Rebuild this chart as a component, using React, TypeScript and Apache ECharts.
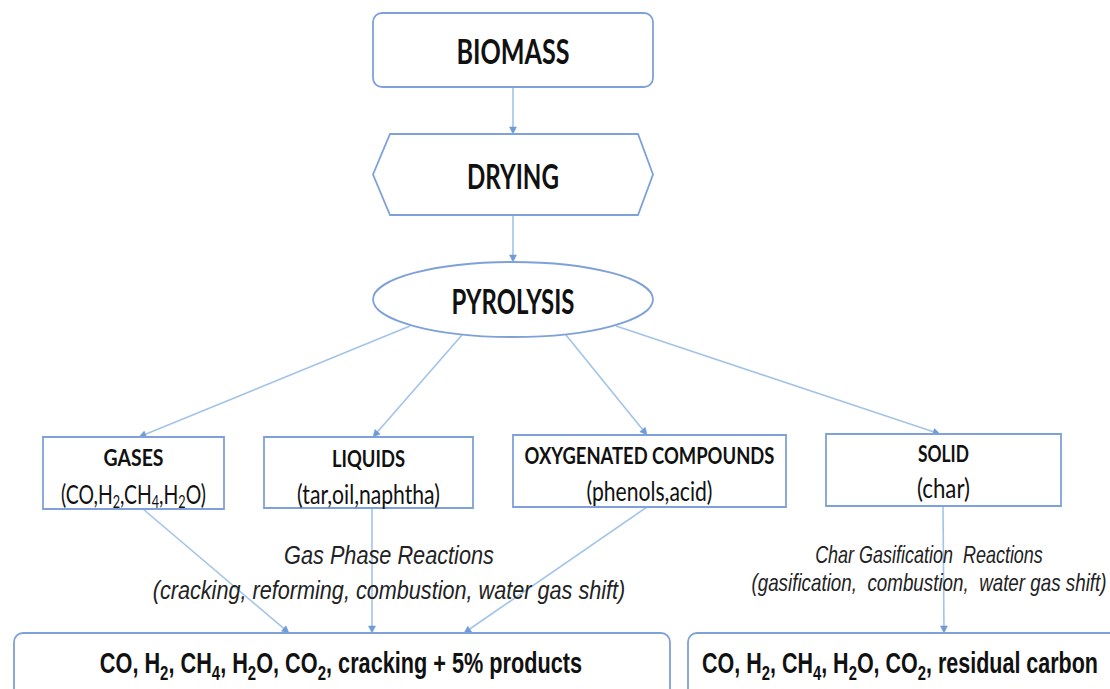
import React, { useEffect, useRef } from "react";
import * as echarts from "echarts";

// ---------- content ----------
const stageLabels = ["BIOMASS", "DRYING", "PYROLYSIS"];
const productTitles = ["GASES", "LIQUIDS", "OXYGENATED COMPOUNDS", "SOLID"];
const productDetails = ["(CO,H_2,CH_4,H_2O)", "(tar,oil,naphtha)", "(phenols,acid)", "(char)"];
const reactionTitles = ["Gas Phase Reactions", "Char Gasification  Reactions"];
const reactionDetails = [
  "(cracking, reforming, combustion, water gas shift)",
  "(gasification,  combustion,  water gas shift)",
];
const outputLabels = [
  "CO, H_2, CH_4, H_2O, CO_2, cracking + 5% products",
  "CO, H_2, CH_4, H_2O, CO_2, residual carbon",
];

// ---------- layout ----------
const BOX_STROKE = "#7fa1d9";
const LINE_COLOR = "#a2c4e8";
const HEAD_COLOR = "#6f9bd6";
const TEXT_COLOR = "#111111";

const biomassBox = { x: 373, y: 13, w: 280, h: 74 };
const dryingPts = [
  [390, 134], [638, 134], [653, 174.5], [638, 215], [390, 215], [373, 174.5],
];
const pyro = { cx: 513, cy: 299.5, rx: 140, ry: 37.5 };
const productBoxes = [
  { x: 43, y: 437, w: 181, h: 72 },
  { x: 264, y: 437, w: 209, h: 71 },
  { x: 513, y: 435, w: 273, h: 72 },
  { x: 826, y: 434, w: 235, h: 72 },
];
const outputBoxes = [
  { x: 14, y: 633, w: 656, h: 70 },
  { x: 688, y: 633, w: 432, h: 70 },
];
const arrows = [
  [513, 87, 513, 134],
  [513, 215, 513, 262],
  [410, 326, 139, 437],
  [462, 335, 373, 437],
  [566, 335, 647, 435],
  [616, 326, 940, 434],
  [143, 509, 289, 633],
  [372, 508, 372, 633],
  [647, 507, 464, 633],
  [943, 506, 944, 633],
];

const stagePos = [
  { cx: 513, cy: 50, w: 113 },
  { cx: 513, cy: 176, w: 92 },
  { cx: 513, cy: 301, w: 123 },
];
const titlePos = [
  { cx: 133.5, cy: 458, w: 60 },
  { cx: 368.5, cy: 458, w: 73 },
  { cx: 649.5, cy: 455, w: 250 },
  { cx: 943.5, cy: 453, w: 51 },
];
const detailPos = [
  { cx: 133.5, cy: 494, w: 145 },
  { cx: 368.5, cy: 494, w: 143 },
  { cx: 649.5, cy: 491, w: 126 },
  { cx: 943.5, cy: 488, w: 53 },
];
const reactionTitlePos = [
  { cx: 389, cy: 555, w: 210, size: 26 },
  { cx: 929, cy: 555, w: 228, size: 23 },
];
const reactionDetailPos = [
  { cx: 389, cy: 590, w: 473, size: 26 },
  { cx: 929, cy: 583, w: 355, size: 23 },
];
const outputPos = [
  { cx: 341, cy: 663, w: 482 },
  { cx: 900, cy: 663, w: 396 },
];

// ---------- helpers ----------
let measureCtx: CanvasRenderingContext2D | null = null;
function measure(text: string, font: string) {
  if (!measureCtx) measureCtx = document.createElement("canvas").getContext("2d");
  measureCtx!.font = font;
  return measureCtx!.measureText(text).width;
}

function parseSegs(s: string) {
  const out: { t: string; sub: boolean }[] = [];
  const re = /_(\d)/g;
  let last = 0;
  let m: RegExpExecArray | null;
  while ((m = re.exec(s))) {
    if (m.index > last) out.push({ t: s.slice(last, m.index), sub: false });
    out.push({ t: m[1], sub: true });
    last = m.index + m[0].length;
  }
  if (last < s.length) out.push({ t: s.slice(last), sub: false });
  return out;
}

type TSpec = {
  text: string;
  cx: number;
  cy: number;
  width: number;
  family: string;
  size: number;
  weight?: string;
  fstyle?: string;
  color?: string;
  subScale?: number;
  subDrop?: number;
};

function makeText(spec: TSpec) {
  const segs = parseSegs(spec.text);
  const weight = spec.weight || "normal";
  const fstyle = spec.fstyle || "normal";
  const color = spec.color || TEXT_COLOR;
  const subSize = Math.round(spec.size * (spec.subScale ?? 0.7));
  const mainFont = `${fstyle} ${weight} ${spec.size}px "${spec.family}"`;
  const subFont = `${fstyle} ${weight} ${subSize}px "${spec.family}"`;
  let w = 0;
  segs.forEach((s) => (w += measure(s.t, s.sub ? subFont : mainFont)));
  const scaleX = w > 0 ? spec.width / w : 1;
  const lh = Math.round(spec.size * 1.2);
  const base: any = {
    font: mainFont,
    fontFamily: spec.family,
    fontSize: spec.size,
    fontWeight: weight,
    fontStyle: fstyle,
    fill: color,
    lineHeight: lh,
  };
  const hasSub = segs.some((s) => s.sub);
  const style: any = {
    ...base,
    align: "center",
    verticalAlign: "middle",
    textAlign: "center",
    textVerticalAlign: "middle",
  };
  if (!hasSub) {
    style.text = spec.text;
  } else {
    const drop = spec.subDrop ?? spec.size * 0.32;
    style.text = segs.map((s) => `{${s.sub ? "s" : "m"}|${s.t}}`).join("");
    style.rich = {
      m: { ...base },
      s: { ...base, font: subFont, fontSize: subSize, padding: [drop * 2, 0, 0, 0] },
    };
  }
  return { type: "text", x: spec.cx, y: spec.cy, scaleX, silent: true, z: 10, style };
}

function arrowElems(a: number[]) {
  const [x1, y1, x2, y2] = a;
  const dx = x2 - x1;
  const dy = y2 - y1;
  const len = Math.sqrt(dx * dx + dy * dy);
  const ux = dx / len;
  const uy = dy / len;
  const hl = 7;
  const hw = 3.5;
  const bx = x2 - ux * hl;
  const by = y2 - uy * hl;
  return [
    {
      type: "line",
      silent: true,
      z: 2,
      shape: { x1, y1, x2: bx, y2: by },
      style: { stroke: LINE_COLOR, lineWidth: 1.6 },
    },
    {
      type: "polygon",
      silent: true,
      z: 3,
      shape: {
        points: [
          [x2, y2],
          [bx - uy * hw, by + ux * hw],
          [bx + uy * hw, by - ux * hw],
        ],
      },
      style: { fill: HEAD_COLOR, stroke: HEAD_COLOR, lineWidth: 0.5 },
    },
  ];
}

function buildOption() {
  const els: any[] = [];
  arrows.forEach((a) => els.push(...arrowElems(a)));

  els.push({
    type: "rect",
    silent: true,
    z: 5,
    shape: { x: biomassBox.x, y: biomassBox.y, width: biomassBox.w, height: biomassBox.h, r: 9 },
    style: { fill: "#ffffff", stroke: BOX_STROKE, lineWidth: 1.8 },
  });
  els.push({
    type: "polygon",
    silent: true,
    z: 5,
    shape: { points: dryingPts },
    style: { fill: "#ffffff", stroke: BOX_STROKE, lineWidth: 1.8 },
  });
  els.push({
    type: "ellipse",
    silent: true,
    z: 5,
    shape: { cx: pyro.cx, cy: pyro.cy, rx: pyro.rx, ry: pyro.ry },
    style: { fill: "#ffffff", stroke: BOX_STROKE, lineWidth: 1.8 },
  });
  productBoxes.forEach((b) =>
    els.push({
      type: "rect",
      silent: true,
      z: 5,
      shape: { x: b.x, y: b.y, width: b.w, height: b.h },
      style: { fill: "#ffffff", stroke: BOX_STROKE, lineWidth: 1.8 },
    })
  );
  outputBoxes.forEach((b) =>
    els.push({
      type: "rect",
      silent: true,
      z: 5,
      shape: { x: b.x, y: b.y, width: b.w, height: b.h, r: 9 },
      style: { fill: "#ffffff", stroke: BOX_STROKE, lineWidth: 1.8 },
    })
  );

  stageLabels.forEach((t, i) =>
    els.push(
      makeText({ text: t, cx: stagePos[i].cx, cy: stagePos[i].cy, width: stagePos[i].w, family: "Lato", size: 34, weight: "bold" })
    )
  );
  productTitles.forEach((t, i) =>
    els.push(
      makeText({ text: t, cx: titlePos[i].cx, cy: titlePos[i].cy, width: titlePos[i].w, family: "Lato", size: 22, weight: "bold" })
    )
  );
  productDetails.forEach((t, i) =>
    els.push(
      makeText({ text: t, cx: detailPos[i].cx, cy: detailPos[i].cy, width: detailPos[i].w, family: "Lato", size: 26, subScale: 0.65, subDrop: 7 })
    )
  );
  reactionTitles.forEach((t, i) =>
    els.push(
      makeText({
        text: t,
        cx: reactionTitlePos[i].cx,
        cy: reactionTitlePos[i].cy,
        width: reactionTitlePos[i].w,
        family: "Liberation Sans",
        size: reactionTitlePos[i].size,
        fstyle: "italic",
        color: "#222222",
      })
    )
  );
  reactionDetails.forEach((t, i) =>
    els.push(
      makeText({
        text: t,
        cx: reactionDetailPos[i].cx,
        cy: reactionDetailPos[i].cy,
        width: reactionDetailPos[i].w,
        family: "Liberation Sans",
        size: reactionDetailPos[i].size,
        fstyle: "italic",
        color: "#222222",
      })
    )
  );
  outputLabels.forEach((t, i) =>
    els.push(
      makeText({
        text: t,
        cx: outputPos[i].cx,
        cy: outputPos[i].cy,
        width: outputPos[i].w,
        family: "Liberation Sans",
        size: 29,
        weight: "bold",
        subScale: 0.68,
        subDrop: 10,
      })
    )
  );

  return {
    animation: false,
    backgroundColor: "#ffffff",
    graphic: { elements: els },
  };
}

export default function App() {
  const ref = useRef<HTMLDivElement>(null);
  useEffect(() => {
    if (!ref.current) return;
    const chart = echarts.init(ref.current, undefined, { renderer: "svg" });
    chart.setOption(buildOption() as any);
    return () => chart.dispose();
  }, []);
  return (
    <div
      ref={ref}
      style={{ position: "fixed", left: 0, top: 0, width: 1110, height: 689, background: "#ffffff" }}
    />
  );
}
